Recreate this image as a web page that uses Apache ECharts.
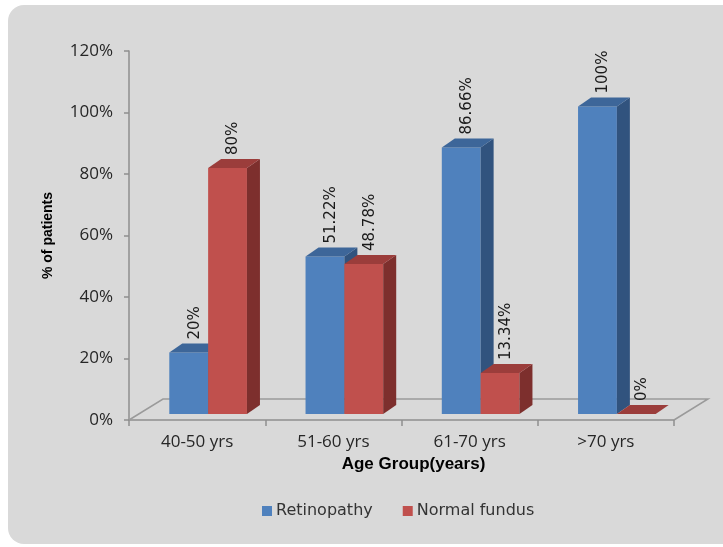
<!DOCTYPE html>
<html>
<head>
<meta charset="utf-8">
<script src="https://cdn.jsdelivr.net/npm/echarts@6/dist/echarts.min.js"></script>
<style>
  html, body { margin: 0; padding: 0; background: #ffffff; }
  #chart { width: 723px; height: 547px; }
</style>
</head>
<body>
<div id="chart"></div>
<script>
// Age groups and the share of patients in each outcome (percent)
const categories = ['40-50 yrs', '51-60 yrs', '61-70 yrs', '>70 yrs'];
const retinopathy = [20, 51.22, 86.66, 100];
const normalFundus = [80, 48.78, 13.34, 0];
const valueLabelsRetinopathy = ['20%', '51.22%', '86.66%', '100%'];
const valueLabelsNormal = ['80%', '48.78%', '13.34%', '0%'];

// Pseudo-3D geometry (pixels)
const FLOOR_DX = 34, FLOOR_DY = 21;   // depth of the floor plane
const BAR_SHIFT_X = 11, BAR_SHIFT_Y = 6; // bars stand a little behind the front edge
const BAR_DX = 13, BAR_DY = 9;         // depth of each bar
const BAR_FRACTION = 0.285;           // bar width as share of a category slot

const palettes = [
  { front: '#4f81bd', top: '#3d6699', side: '#31537e' },
  { front: '#c0504d', top: '#9b3d3b', side: '#7d2f2d' }
];

function makeBarRenderer(pos, labels) {
  const pal = palettes[pos];
  return function (params, api) {
    const idx = api.value(0);
    const v = api.value(1);
    const base = api.coord([idx, 0]);
    const topPt = api.coord([idx, v]);
    const barW = api.size([1, 0])[0] * BAR_FRACTION;
    const left = base[0] + BAR_SHIFT_X - barW + pos * barW;
    const right = left + barW;
    const y0 = base[1] - BAR_SHIFT_Y;
    const y1 = topPt[1] - BAR_SHIFT_Y;
    return {
      type: 'group',
      children: [
        { type: 'rect', shape: { x: left, y: y1, width: barW, height: y0 - y1 },
          style: { fill: pal.front } },
        { type: 'polygon', shape: { points: [[right, y1], [right + BAR_DX, y1 - BAR_DY], [right + BAR_DX, y0 - BAR_DY], [right, y0]] },
          style: { fill: pal.side } },
        { type: 'polygon', shape: { points: [[left, y1], [right, y1], [right + BAR_DX, y1 - BAR_DY], [left + BAR_DX, y1 - BAR_DY]] },
          style: { fill: pal.top } },
        { type: 'text', x: left + barW / 2 + 6, y: y1 - BAR_DY - 4, rotation: Math.PI / 2,
          style: { text: labels[params.dataIndex], fill: '#1a1a1a',
                   font: '15px "DejaVu Sans"', align: 'left', verticalAlign: 'middle' } }
      ]
    };
  };
}

function floorRenderer(params, api) {
  const cs = params.coordSys;
  const l = cs.x, r = cs.x + cs.width, b = cs.y + cs.height;
  return {
    type: 'polyline',
    shape: { points: [[l, b], [l + FLOOR_DX, b - FLOOR_DY], [r + FLOOR_DX, b - FLOOR_DY], [r, b]] },
    style: { stroke: '#9a9a9a', lineWidth: 1.5, fill: null }
  };
}

const chart = echarts.init(document.getElementById('chart'));
chart.setOption({
  animation: false,
  backgroundColor: 'transparent',
  graphic: [{
    type: 'rect', z: -10, silent: true,
    shape: { x: 8, y: 5, width: 740, height: 539, r: 16 },
    style: { fill: '#d9d9d9' }
  }],
  grid: { left: 129, right: 49, top: 51, bottom: 127 },
  legend: {
    data: ['Retinopathy', 'Normal fundus'],
    left: 262, top: 503, padding: 0,
    icon: 'rect', itemWidth: 10, itemHeight: 10, itemGap: 30,
    textStyle: { fontFamily: 'DejaVu Sans', fontSize: 16, color: '#333333', padding: [0, 0, 0, -1] }
  },
  xAxis: {
    type: 'category',
    data: categories,
    boundaryGap: true,
    name: 'Age Group(years)',
    nameLocation: 'middle',
    nameGap: 34,
    nameTextStyle: { fontFamily: 'Liberation Sans', fontWeight: 'bold', fontSize: 17, color: '#000000', padding: [0, 0, 0, 24] },
    axisLine: { lineStyle: { color: '#8e8e8e', width: 1.5 } },
    axisTick: { show: true, length: 6, lineStyle: { color: '#8e8e8e', width: 1.5 } },
    axisLabel: { fontFamily: 'Open Sans', fontSize: 17, color: '#262626', margin: 14 }
  },
  yAxis: {
    type: 'value',
    min: 0, max: 120, interval: 20,
    name: '% of patients',
    nameLocation: 'middle',
    nameGap: 74,
    nameTextStyle: { fontFamily: 'Liberation Sans', fontWeight: 'bold', fontSize: 14, color: '#000000' },
    axisLine: { show: true, lineStyle: { color: '#8e8e8e', width: 1.5 } },
    axisTick: { show: true, length: 5, lineStyle: { color: '#8e8e8e', width: 1.5 } },
    splitLine: { show: false },
    axisLabel: { formatter: '{value}%', fontFamily: 'Open Sans', fontSize: 17, color: '#262626', margin: 16 }
  },
  series: [
    {
      name: 'floor', type: 'custom', silent: true, z: 1,
      renderItem: floorRenderer,
      data: [[0, 0]]
    },
    {
      name: 'Retinopathy', type: 'custom', z: 2,
      itemStyle: { color: palettes[0].front },
      renderItem: makeBarRenderer(0, valueLabelsRetinopathy),
      encode: { x: 0, y: 1 },
      data: retinopathy.map((v, i) => [i, v])
    },
    {
      name: 'Normal fundus', type: 'custom', z: 3,
      itemStyle: { color: palettes[1].front },
      renderItem: makeBarRenderer(1, valueLabelsNormal),
      encode: { x: 0, y: 1 },
      data: normalFundus.map((v, i) => [i, v])
    }
  ]
});
</script>
</body>
</html>
